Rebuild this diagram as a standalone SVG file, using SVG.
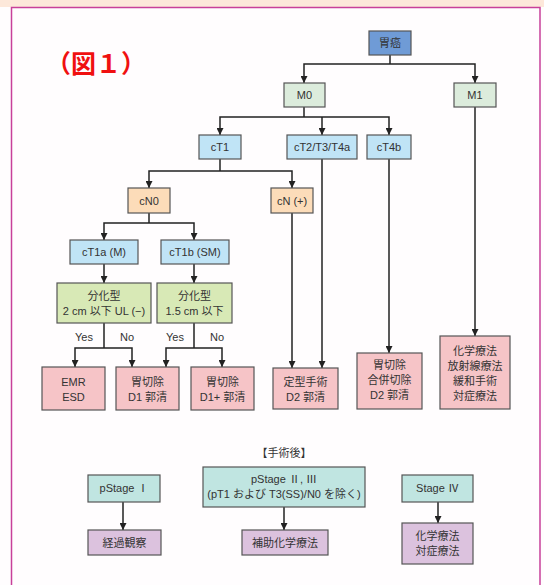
<svg xmlns="http://www.w3.org/2000/svg" width="544" height="585" viewBox="0 0 544 585">
<style>
.b{stroke:#555;stroke-width:1.2}
.c{fill:none;stroke:#222;stroke-width:1.5}
.ca{fill:none;stroke:#222;stroke-width:1.5;marker-end:url(#ah)}
text{font-family:"Liberation Sans","Noto Sans CJK JP",sans-serif;font-size:11px;fill:#333;text-anchor:middle}
.top{fill:#6f9bd6}
.m{fill:#dcecdc}
.t{fill:#c0e4f6}
.n{fill:#fcdcb9}
.g{fill:#d8e9b6}
.p{fill:#f6c4c7}
.q{fill:#c0e5e1}
.v{fill:#dcc2de}
</style>
<defs>
<marker id="ah" markerUnits="userSpaceOnUse" markerWidth="7" markerHeight="7" refX="7" refY="3.5" orient="auto">
<path d="M0,0 L7,3.5 L0,7 z" fill="#222"/>
</marker>
</defs>
<rect x="0" y="0" width="544" height="585" fill="#fffdfe"/>
<rect x="0" y="0" width="544" height="7" fill="#fde8da"/>
<path d="M11.5 585 V7.5 H540 V585" fill="none" stroke="#c8409a" stroke-width="1.5"/>
<text x="96" y="73" style="font-size:25px;font-weight:bold;fill:#f01010;font-family:'Noto Sans CJK JP',sans-serif">（図１）</text>

<g id="connectors">
<path class="c" d="M390 55 V64"/>
<path class="ca" d="M390 64 H304 V83"/>
<path class="ca" d="M390 64 H475 V83"/>
<path class="c" d="M304 107 V117"/>
<path class="ca" d="M304 117 H220 V135"/>
<path class="ca" d="M304 117 H389 V135"/>
<path class="ca" d="M322 117 V135"/>
<path class="ca" d="M475 107 V336"/>
<path class="c" d="M220 159 V171"/>
<path class="ca" d="M220 171 H149 V188"/>
<path class="ca" d="M220 171 H292 V188"/>
<path class="c" d="M149 213 V223"/>
<path class="ca" d="M149 223 H104 V240"/>
<path class="ca" d="M149 223 H194 V240"/>
<path class="ca" d="M292 213 V368"/>
<path class="ca" d="M322 159 V368"/>
<path class="ca" d="M389 159 V353"/>
<path class="ca" d="M104 264 V283"/>
<path class="ca" d="M194 264 V283"/>
<path class="c" d="M104 323 V348"/>
<path class="ca" d="M104 348 H75 V367"/>
<path class="ca" d="M104 348 H132 V367"/>
<path class="c" d="M194 323 V348"/>
<path class="ca" d="M194 348 H166 V367"/>
<path class="ca" d="M194 348 H222 V367"/>
<path class="ca" d="M123 502 V530"/>
<path class="ca" d="M284 507 V530"/>
<path class="ca" d="M438 502 V523"/>
</g>

<g id="label-yesno">
<text x="84" y="341">Yes</text>
<text x="127" y="341">No</text>
<text x="175" y="341">Yes</text>
<text x="217" y="341">No</text>
</g>

<g id="n-ig"><rect class="b top" x="369" y="31" width="42" height="24"/><text x="390" y="47">胃癌</text></g>
<g id="n-m0"><rect class="b m" x="284" y="83" width="41" height="24"/><text x="304.5" y="99">M0</text></g>
<g id="n-m1"><rect class="b m" x="454" y="83" width="42" height="24"/><text x="475" y="99">M1</text></g>
<g id="n-ct1"><rect class="b t" x="199" y="135" width="42" height="24"/><text x="220" y="151">cT1</text></g>
<g id="n-ct2"><rect class="b t" x="287" y="135" width="70" height="24"/><text x="322" y="151">cT2/T3/T4a</text></g>
<g id="n-ct4b"><rect class="b t" x="367" y="135" width="44" height="24"/><text x="389" y="151">cT4b</text></g>
<g id="n-cn0"><rect class="b n" x="128" y="188" width="42" height="25"/><text x="149" y="204.5">cN0</text></g>
<g id="n-cnp"><rect class="b n" x="271" y="188" width="42" height="25"/><text x="292" y="204.5">cN (+)</text></g>
<g id="n-ct1a"><rect class="b t" x="70" y="240" width="68" height="24"/><text x="104" y="256">cT1a (M)</text></g>
<g id="n-ct1b"><rect class="b t" x="161" y="240" width="68" height="24"/><text x="195" y="256">cT1b (SM)</text></g>
<g id="n-g1"><rect class="b g" x="57" y="283" width="94" height="40"/><text x="104" y="300">分化型</text><text x="104" y="315">2 cm 以下 UL (−)</text></g>
<g id="n-g2"><rect class="b g" x="157" y="283" width="75" height="40"/><text x="194.5" y="300">分化型</text><text x="194.5" y="315">1.5 cm 以下</text></g>
<g id="n-emr"><rect class="b p" x="42" y="367" width="63" height="43"/><text x="73.5" y="386">EMR</text><text x="73.5" y="401">ESD</text></g>
<g id="n-d1"><rect class="b p" x="116" y="367" width="63" height="43"/><text x="147.5" y="386">胃切除</text><text x="147.5" y="401">D1 郭清</text></g>
<g id="n-d1p"><rect class="b p" x="191" y="367" width="63" height="43"/><text x="222.5" y="386">胃切除</text><text x="222.5" y="401">D1+ 郭清</text></g>
<g id="n-d2"><rect class="b p" x="273" y="368" width="65" height="41"/><text x="305.5" y="386">定型手術</text><text x="305.5" y="401">D2 郭清</text></g>
<g id="n-comb"><rect class="b p" x="357" y="353" width="65" height="56"/><text x="389.5" y="369">胃切除</text><text x="389.5" y="384">合併切除</text><text x="389.5" y="399">D2 郭清</text></g>
<g id="n-chemo"><rect class="b p" x="440" y="336" width="70" height="73"/><text x="475" y="355">化学療法</text><text x="475" y="370">放射線療法</text><text x="475" y="385">緩和手術</text><text x="475" y="400">対症療法</text></g>

<text x="284" y="457">【手術後】</text>
<g id="n-ps1"><rect class="b q" x="88" y="475" width="72" height="27"/><text x="124" y="492">pStage Ⅰ</text></g>
<g id="n-ps2"><rect class="b q" x="203" y="467" width="162" height="40"/><text x="284" y="483">pStage Ⅱ, Ⅲ</text><text x="284" y="498">(pT1 および T3(SS)/N0 を除く)</text></g>
<g id="n-s4"><rect class="b q" x="402" y="475" width="71" height="27"/><text x="437.5" y="492">Stage Ⅳ</text></g>
<g id="n-obs"><rect class="b v" x="88" y="530" width="73" height="25"/><text x="124.5" y="546.5">経過観察</text></g>
<g id="n-adj"><rect class="b v" x="242" y="530" width="86" height="25"/><text x="285" y="546.5">補助化学療法</text></g>
<g id="n-chemo2"><rect class="b v" x="402" y="523" width="71" height="41"/><text x="437.5" y="540">化学療法</text><text x="437.5" y="555">対症療法</text></g>
</svg>
